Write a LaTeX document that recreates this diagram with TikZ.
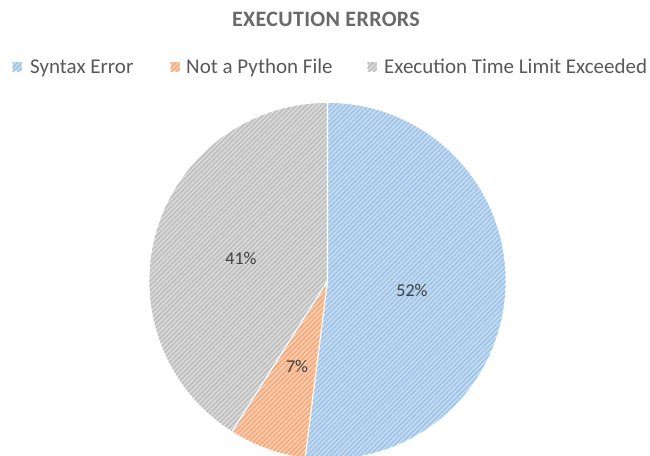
\documentclass[tikz,border=0pt]{standalone}
\usepackage{fontspec}
\setmainfont{Carlito}
\newfontfamily\titlefont[LetterSpace=1.5]{Carlito}
\usetikzlibrary{patterns.meta}
\definecolor{synbase}{HTML}{C6DCF2}
\definecolor{synline}{HTML}{9DC3E6}
\definecolor{pybase}{HTML}{F9CDB0}
\definecolor{pyline}{HTML}{F4A97A}
\definecolor{timebase}{HTML}{DADADA}
\definecolor{timeline}{HTML}{BDBDBD}
\definecolor{txtgray}{HTML}{595959}
\definecolor{lblgray}{HTML}{404040}
\tikzset{
  hatch/.style={pattern={Lines[angle=45,distance=3.4pt,line width=1.5pt]},pattern color=#1},
  slice/.style={draw=white, line width=1.2pt, line join=round},
  lbl/.style={font=\fontsize{18}{20}\selectfont, text=lblgray},
  legtext/.style={font=\fontsize{21}{24}\selectfont, text=txtgray, anchor=base west, inner sep=0pt},
  legbox/.style={minimum size=9pt, inner sep=0pt}
}
\begin{document}
\begin{tikzpicture}[x=1pt, y=1pt]
\useasboundingbox (0,0) rectangle (650,455);
\clip (0,0) rectangle (650,455);
\fill[white] (0,0) rectangle (650,455);
% title
\node[font=\titlefont\bfseries\fontsize{22}{24}\selectfont, text=txtgray!90, anchor=base, inner sep=0pt] (title) at (326,428.3) {EXECUTION ERRORS};
% legend
\node[legbox, fill=synbase] (k1) at (17,388) {};
\fill[hatch=synline] (k1.south west) rectangle (k1.north east);
\node[legtext] (t1) at (30,381.5) {Syntax Error};
\node[legbox, fill=pybase] (k2) at (175,388) {};
\fill[hatch=pyline] (k2.south west) rectangle (k2.north east);
\node[legtext] (t2) at (186,381.5) {Not a Python File};
\node[legbox, fill=timebase] (k3) at (372,388) {};
\fill[hatch=timeline] (k3.south west) rectangle (k3.north east);
\node[legtext] (t3) at (384,381.5) {Execution Time Limit Exceeded};
% pie
\coordinate (c) at (327.5,174);
\def\rad{178}
\fill[synbase] (c) -- ++(90:\rad) arc (90:-97.2:\rad) -- cycle;
\fill[hatch=synline] (c) -- ++(90:\rad) arc (90:-97.2:\rad) -- cycle;
\fill[pybase] (c) -- ++(-97.2:\rad) arc (-97.2:-122.4:\rad) -- cycle;
\fill[hatch=pyline] (c) -- ++(-97.2:\rad) arc (-97.2:-122.4:\rad) -- cycle;
\fill[timebase] (c) -- ++(-122.4:\rad) arc (-122.4:-270:\rad) -- cycle;
\fill[hatch=timeline] (c) -- ++(-122.4:\rad) arc (-122.4:-270:\rad) -- cycle;
\draw[slice] (c) -- ++(90:\rad) (c) -- ++(-97.2:\rad) (c) -- ++(-122.4:\rad);
% labels
\node[lbl] (p1) at (412,165) {52\%};
\node[lbl] (p2) at (297,89) {7\%};
\node[lbl] (p3) at (241,197) {41\%};
\end{tikzpicture}
\end{document}
